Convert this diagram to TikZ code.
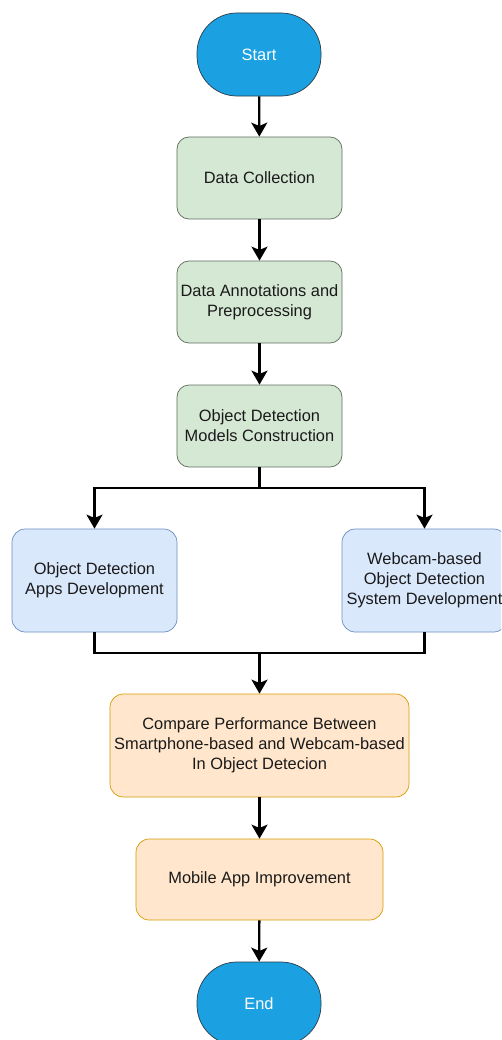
\documentclass[tikz,border=0pt]{standalone}
\usepackage{fontspec}
\setmainfont{Liberation Sans}
\usetikzlibrary{arrows.meta}
\definecolor{termfill}{HTML}{1BA1E2}
\definecolor{termline}{HTML}{2B3A45}
\definecolor{gfill}{HTML}{D5E8D4}
\definecolor{gline}{HTML}{5F6F5A}
\definecolor{bfill}{HTML}{DAE8FC}
\definecolor{bline}{HTML}{6C8EBF}
\definecolor{ofill}{HTML}{FFE6CC}
\definecolor{oline}{HTML}{D79B00}
\definecolor{txt}{HTML}{1A1A1A}
\tikzset{
  px/.style={x=0.03cm,y=-0.03cm},
  base/.style={draw, line width=0.6pt, align=center, inner sep=0pt, font=\fontsize{14}{17}\selectfont, text=txt},
  term/.style={base, fill=termfill, draw=termline, rounded corners=1.2cm, minimum width=3.72cm, minimum height=2.49cm, text=white},
  gbox/.style={base, fill=gfill, draw=gline, rounded corners=0.36cm, minimum width=4.95cm, minimum height=2.46cm},
  bbox/.style={base, fill=bfill, draw=bline, rounded corners=0.4cm, minimum width=4.95cm, minimum height=3.09cm},
  obox/.style={base, fill=ofill, draw=oline, rounded corners=0.4cm},
  arr/.style={line width=2pt, -{Stealth[length=0.42cm,width=0.48cm,inset=0.1cm]}},
  ln/.style={line width=2pt}
}
\begin{document}
\begin{tikzpicture}[px]
\useasboundingbox (0,0) rectangle (501,1040);
\clip (0,0) rectangle (501,1040);
\node[term] (start) at (259,54.5) {Start};
\node[gbox] (dc) at (259.5,178) {Data Collection};
\node[gbox] (da) at (259.5,302) {Data Annotations and\\Preprocessing};
\node[gbox] (od) at (259.5,426) {Object Detection\\Models Construction};
\node[bbox] (left) at (94.5,580.5) {Object Detection\\Apps Development};
\node[bbox] (right) at (424.5,580.5) {Webcam-based\\Object Detection\\System Development};
\node[obox, minimum width=8.97cm, minimum height=3.09cm] (cmp) at (259.5,745.5) {Compare Performance Between\\Smartphone-based and Webcam-based\\In Object Detecion};
\node[obox, minimum width=7.41cm, minimum height=2.43cm] (mob) at (259.5,879.5) {Mobile App Improvement};
\node[term] (end) at (259,1003.5) {End};
\coordinate (b) at (259.5,488);
\coordinate (m) at (259.5,653);
\draw[arr] (start) -- (dc);
\draw[arr] (dc) -- (da);
\draw[arr] (da) -- (od);
\draw[ln] (od.south) -- (b);
\draw[arr] (b) -| (left.north);
\draw[arr] (b) -| (right.north);
\draw[ln] (left.south) |- (m);
\draw[ln] (right.south) |- (m);
\draw[arr] (m) -- (cmp.north);
\draw[arr] (cmp) -- (mob);
\draw[arr] (mob) -- (end);
\end{tikzpicture}
\end{document}
